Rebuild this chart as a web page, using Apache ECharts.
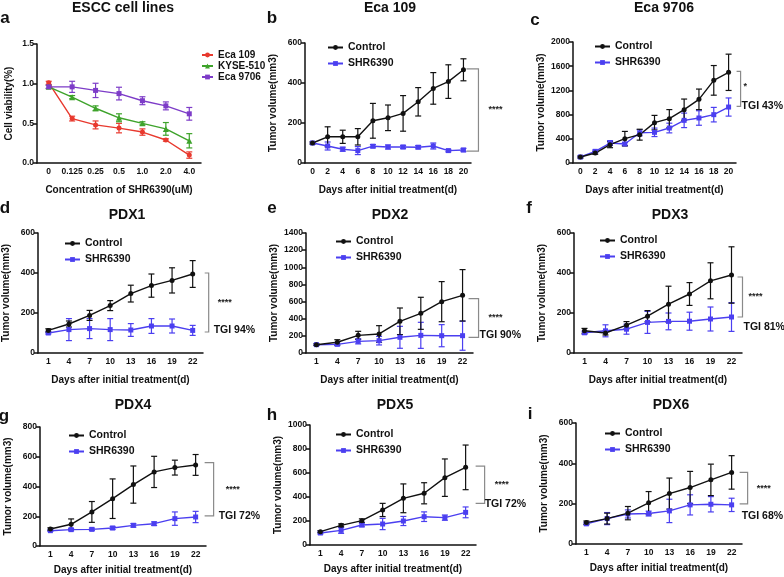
<!DOCTYPE html>
<html>
<head>
<meta charset="utf-8">
<script src="https://cdn.jsdelivr.net/npm/echarts@6/dist/echarts.min.js"></script>
<style>
  html, body { margin: 0; padding: 0; background: #fff; }
  #main { width: 784px; height: 577px; }
</style>
</head>
<body>
<div id="main"></div>
<script>
// ---- data ----
var concLabels = ['0', '0.125', '0.25', '0.5', '1.0', '2.0', '4.0'];
var eca109Via = [1.01, 0.56, 0.48, 0.44, 0.39, 0.29, 0.10];
var eca109Err = [0.02, 0.03, 0.05, 0.06, 0.04, 0.015, 0.04];
var kyseVia = [0.96, 0.83, 0.69, 0.57, 0.50, 0.43, 0.28];
var kyseErr = [0.02, 0.02, 0.03, 0.05, 0.02, 0.08, 0.09];
var eca9706Via = [0.96, 0.96, 0.915, 0.875, 0.785, 0.72, 0.62];
var eca9706Err = [0.02, 0.07, 0.09, 0.08, 0.05, 0.05, 0.08];

var daysEca = ['0', '2', '4', '6', '8', '10', '12', '14', '16', '18', '20'];
var daysPdx = ['1', '4', '7', '10', '13', '16', '19', '22'];

// Eca 109
var bCtrl = [100, 131, 131, 131, 211, 226, 248, 306, 373, 407, 466];
var bCtrlErr = [5, 50, 33, 41, 87, 64, 89, 71, 79, 84, 55];
var bShr = [100, 85, 69, 62, 84, 80, 80, 79, 85, 62, 65];
var bShrErr = [5, 20, 10, 20, 8, 10, 8, 8, 15, 6, 8];
// Eca 9706
var cCtrl = [99, 165, 303, 402, 468, 667, 733, 882, 1052, 1366, 1499];
var cCtrlErr = [15, 20, 50, 120, 90, 120, 150, 175, 170, 245, 300];
var cShr = [99, 193, 330, 314, 500, 507, 578, 705, 744, 799, 925];
var cShrErr = [15, 20, 40, 25, 50, 70, 80, 120, 120, 120, 150];
// PDX1
var dCtrl = [113, 145, 188, 237, 297, 337, 363, 395];
var dCtrlErr = [8, 15, 25, 25, 42, 58, 63, 67];
var dShr = [100, 117, 122, 117, 115, 135, 135, 113];
var dShrErr = [5, 55, 50, 55, 32, 37, 35, 25];
// PDX2
var eCtrl = [97, 125, 206, 222, 370, 463, 599, 673];
var eCtrlErr = [10, 30, 47, 97, 155, 187, 234, 300];
var eShr = [97, 101, 136, 144, 183, 206, 202, 202];
var eShrErr = [8, 15, 30, 50, 128, 152, 129, 170];
// PDX3
var fCtrl = [111, 100, 139, 184, 244, 295, 361, 390];
var fCtrlErr = [12, 10, 18, 28, 90, 57, 90, 141];
var fShr = [101, 111, 119, 153, 158, 159, 170, 180];
var fShrErr = [8, 30, 25, 55, 42, 45, 60, 72];
// PDX4
var gCtrl = [114, 146, 229, 318, 413, 498, 527, 545];
var gCtrlErr = [8, 36, 70, 133, 125, 105, 50, 70];
var gShr = [103, 110, 112, 121, 139, 150, 184, 195];
var gShrErr = [5, 8, 8, 10, 12, 12, 45, 38];
// PDX5
var hCtrl = [111, 164, 203, 292, 389, 431, 561, 647];
var hCtrlErr = [8, 12, 15, 55, 120, 88, 156, 186];
var hShr = [100, 122, 167, 175, 200, 236, 228, 272];
var hShrErr = [8, 25, 15, 47, 38, 40, 22, 45];
// PDX6
var iCtrl = [106, 126, 153, 204, 250, 280, 318, 355];
var iCtrlErr = [8, 27, 33, 56, 77, 80, 78, 83];
var iShr = [100, 126, 149, 151, 164, 194, 197, 194];
var iShrErr = [5, 30, 20, 12, 58, 50, 38, 33];

// significance brackets (b..i) and labels
var bracketHigh = [471, 1515, 400, 634, 380, 560, 658, 355];
var bracketLow = [59, 936, 105, 183, 180, 202, 347, 199];
var starLabels = ['****', '*', '****', '****', '****', '****', '****', '****'];
var tgiLabels = ['', 'TGI 43%', 'TGI 94%', 'TGI 90%', 'TGI 81%', 'TGI 72%', 'TGI 72%', 'TGI 68%'];

var yMaxes = [1.5, 600, 2000, 600, 1400, 600, 800, 1000, 600];
var yIntervals = [0.5, 200, 400, 200, 200, 200, 200, 200, 200];

// ---- styling ----
var FONT = 'Liberation Sans, Arial, sans-serif';
var BLACK = '#111111';
var BLUE = '#4b3ff0';
var RED = '#e8392e';
var GREEN = '#3ea32b';
var PURPLE = '#7d3cc8';

var grids = [
  { left: 37, top: 44, width: 164, height: 119 },
  { left: 305, top: 43, width: 166, height: 120 },
  { left: 573, top: 42, width: 163, height: 121 },
  { left: 37, top: 233, width: 166, height: 120 },
  { left: 306, top: 233, width: 167, height: 120 },
  { left: 574, top: 233, width: 168, height: 120 },
  { left: 40, top: 427, width: 166, height: 119 },
  { left: 310, top: 425, width: 166, height: 120 },
  { left: 576, top: 423, width: 166, height: 121 }
];
var legendPos = [
  [196, 45], [322, 37], [589, 36], [59, 233], [330, 231], [594, 230], [63, 425], [330, 424], [599, 423]
];
// bracket offsets from last point: arm start, arm end (px); star / tgi label offsets
var bracketLay = [
  { a: 3, b: 15, sx: 10, sy: 0, tx: 99, ty: 0 },
  { a: 8, b: 12, sx: 3, sy: -2, tx: 1, ty: 0 },
  { a: 12, b: 16, sx: 9, sy: 0, tx: 5, ty: -2 },
  { a: 6, b: 16, sx: 10, sy: 0, tx: 1, ty: -2 },
  { a: 6, b: 11, sx: 6, sy: 0, tx: 1, ty: 10 },
  { a: 9, b: 18, sx: 12, sy: 0, tx: 5, ty: 0 },
  { a: 10, b: 19, sx: 10, sy: 0, tx: 0, ty: 1 },
  { a: 8, b: 16, sx: 9, sy: 0, tx: -6, ty: 12 }
];

var titles = [
  ['ESCC cell lines', 123, 8], ['Eca 109', 390, 8], ['Eca 9706', 664, 8],
  ['PDX1', 127, 215], ['PDX2', 390, 215], ['PDX3', 670, 215],
  ['PDX4', 133, 405], ['PDX5', 395, 405], ['PDX6', 671, 405]
];
var letters = [
  ['a', 5, 18], ['b', 272, 18], ['c', 535, 20], ['d', 5, 208], ['e', 272, 208],
  ['f', 529, 208], ['g', 4, 416], ['h', 272, 415], ['i', 530, 414]
];

function errRender(params, api) {
  var x = api.value(0), m = api.value(1), e = api.value(2);
  var hi = api.coord([x, m + e]);
  var lo = api.coord([x, m - e]);
  var c = api.visual('color');
  var hw = 3;
  var st = { stroke: c, lineWidth: 1.2 };
  return {
    type: 'group',
    children: [
      { type: 'line', shape: { x1: hi[0], y1: hi[1], x2: lo[0], y2: lo[1] }, style: st },
      { type: 'line', shape: { x1: hi[0] - hw, y1: hi[1], x2: hi[0] + hw, y2: hi[1] }, style: st },
      { type: 'line', shape: { x1: lo[0] - hw, y1: lo[1], x2: lo[0] + hw, y2: lo[1] }, style: st }
    ]
  };
}

function errData(vals, errs) {
  return vals.map(function (v, i) { return [i, v, errs[i]]; });
}

function lineSeries(k, name, vals, color, symbol) {
  return {
    type: 'line', name: name, xAxisIndex: k, yAxisIndex: k, data: vals,
    symbol: symbol, symbolSize: symbol === 'triangle' ? 6 : 5,
    itemStyle: { color: color }, lineStyle: { color: color, width: 1.4 },
    z: 3, animation: false
  };
}

function errSeries(k, vals, errs, color) {
  return {
    type: 'custom', xAxisIndex: k, yAxisIndex: k, renderItem: errRender,
    data: errData(vals, errs), itemStyle: { color: color }, z: 2,
    encode: { x: 0, y: 1 }, clip: false, animation: false, silent: true
  };
}

function bracketSeries(k, j) {
  var lay = bracketLay[j];
  var last = (k <= 2 ? daysEca.length : daysPdx.length) - 1;
  return {
    type: 'custom', xAxisIndex: k, yAxisIndex: k, clip: false, silent: true, animation: false,
    data: [[last, bracketHigh[j], bracketLow[j]]],
    encode: { x: 0, y: [1, 2] },
    renderItem: function (params, api) {
      var p1 = api.coord([api.value(0), api.value(1)]);
      var p2 = api.coord([api.value(0), api.value(2)]);
      var xa = p1[0] + lay.a, xb = p1[0] + lay.b;
      var kids = [
        { type: 'polyline', shape: { points: [[xa, p1[1]], [xb, p1[1]], [xb, p2[1]], [xa, p2[1]]] },
          style: { stroke: '#8a8a8a', lineWidth: 1.2, fill: null } },
        { type: 'text', style: { text: starLabels[j], x: xb + lay.sx, y: (p1[1] + p2[1]) / 2 + lay.sy,
          fill: '#222', font: 'bold 9px ' + FONT, align: 'left', verticalAlign: 'middle' } }
      ];
      if (tgiLabels[j]) {
        kids.push({ type: 'text', style: { text: tgiLabels[j], x: xb + lay.tx, y: p2[1] + lay.ty,
          fill: BLACK, font: 'bold 10.5px ' + FONT, align: 'left', verticalAlign: 'middle' } });
      }
      return { type: 'group', children: kids };
    }
  };
}

var nameStyle = { color: BLACK, fontSize: 10, fontWeight: 'bold', fontFamily: FONT };
var labelStyle = { color: BLACK, fontSize: 8.5, fontWeight: 'bold', fontFamily: FONT };

var xAxes = [], yAxes = [], series = [], legends = [], graphics = [];

grids.forEach(function (g, k) {
  var cats = k === 0 ? concLabels : (k <= 2 ? daysEca : daysPdx);
  var xName = k === 0 ? 'Concentration of SHR6390(uM)' : 'Days after initial treatment(d)';
  var yName = k === 0 ? 'Cell viability(%)' : 'Tumor volume(mm3)';
  var row = Math.floor(k / 3);
  xAxes.push({
    type: 'category', gridIndex: k, data: cats, boundaryGap: true,
    axisLine: { lineStyle: { color: BLACK, width: 1.5 } },
    axisTick: { alignWithLabel: true, interval: 0, length: 4, lineStyle: { color: BLACK, width: 1.5 } },
    axisLabel: Object.assign({ interval: 0, margin: 4 }, labelStyle),
    name: xName, nameLocation: 'middle', nameGap: row === 2 ? 19 : 22, nameTextStyle: nameStyle
  });
  yAxes.push({
    type: 'value', gridIndex: k, min: 0, max: yMaxes[k], interval: yIntervals[k],
    splitLine: { show: false },
    axisLine: { show: true, lineStyle: { color: BLACK, width: 1.5 } },
    axisTick: { show: true, length: 4, lineStyle: { color: BLACK, width: 1.5 } },
    axisLabel: Object.assign({ margin: 3, formatter: k === 0 ? function (v) { return v.toFixed(1); } : function (v) { return String(v); } }, labelStyle),
    name: yName, nameLocation: 'middle', nameGap: k === 0 ? 23 : 27, nameTextStyle: nameStyle
  });
  var lp = legendPos[k];
  legends.push({
    orient: 'vertical', left: lp[0], top: lp[1], itemWidth: k === 0 ? 11 : 15, itemHeight: 6,
    itemGap: k === 0 ? 1 : 5,
    textStyle: { color: BLACK, fontSize: k === 0 ? 10 : 10.5, fontWeight: 'bold', fontFamily: FONT },
    data: k === 0 ? ['Eca 109', 'KYSE-510', 'Eca 9706'] : ['Control', 'SHR6390'],
    selectedMode: false
  });
});

// panel a
series.push(errSeries(0, eca109Via, eca109Err, RED));
series.push(errSeries(0, kyseVia, kyseErr, GREEN));
series.push(errSeries(0, eca9706Via, eca9706Err, PURPLE));
series.push(lineSeries(0, 'Eca 109', eca109Via, RED, 'circle'));
series.push(lineSeries(0, 'KYSE-510', kyseVia, GREEN, 'triangle'));
series.push(lineSeries(0, 'Eca 9706', eca9706Via, PURPLE, 'rect'));

// panels b..i
var ctrlSets = [bCtrl, cCtrl, dCtrl, eCtrl, fCtrl, gCtrl, hCtrl, iCtrl];
var ctrlErrSets = [bCtrlErr, cCtrlErr, dCtrlErr, eCtrlErr, fCtrlErr, gCtrlErr, hCtrlErr, iCtrlErr];
var shrSets = [bShr, cShr, dShr, eShr, fShr, gShr, hShr, iShr];
var shrErrSets = [bShrErr, cShrErr, dShrErr, eShrErr, fShrErr, gShrErr, hShrErr, iShrErr];
for (var j = 0; j < 8; j++) {
  var k = j + 1;
  series.push(errSeries(k, shrSets[j], shrErrSets[j], BLUE));
  series.push(errSeries(k, ctrlSets[j], ctrlErrSets[j], BLACK));
  series.push(lineSeries(k, 'SHR6390', shrSets[j], BLUE, 'rect'));
  series.push(lineSeries(k, 'Control', ctrlSets[j], BLACK, 'circle'));
  series.push(bracketSeries(k, j));
}

titles.forEach(function (t) {
  graphics.push({ type: 'text', x: t[1], y: t[2], silent: true,
    style: { text: t[0], fill: BLACK, font: 'bold 14px ' + FONT, align: 'center', verticalAlign: 'middle' } });
});
letters.forEach(function (t) {
  graphics.push({ type: 'text', x: t[1], y: t[2], silent: true,
    style: { text: t[0], fill: BLACK, font: 'bold 17px ' + FONT, align: 'center', verticalAlign: 'middle' } });
});

var chart = echarts.init(document.getElementById('main'));
chart.setOption({
  backgroundColor: '#fff',
  animation: false,
  grid: grids,
  xAxis: xAxes,
  yAxis: yAxes,
  legend: legends,
  series: series,
  graphic: graphics
});
</script>
</body>
</html>
